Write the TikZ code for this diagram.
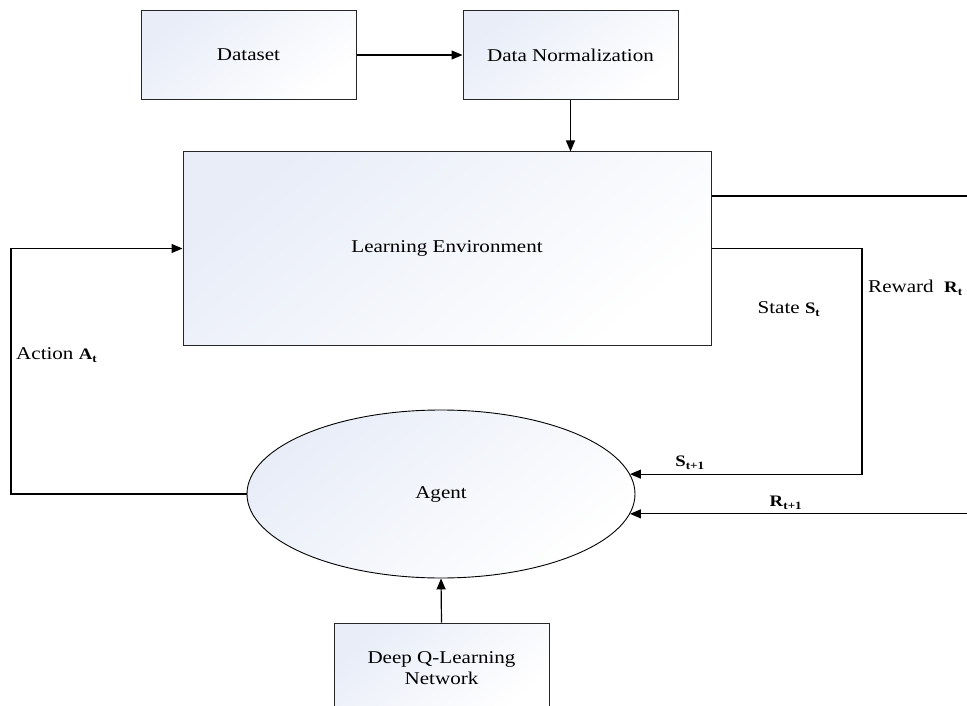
\documentclass[tikz,border=0pt]{standalone}
\usepackage{fontspec}
\setmainfont{Liberation Serif}[FakeStretch=1.17]
\usetikzlibrary{arrows.meta,shapes.geometric,calc}
\definecolor{shadeblue}{HTML}{E8EDF8}
\definecolor{shademid}{HTML}{F7F9FD}
\tikzset{
  box/.style={draw=black!85, line width=1pt, minimum width=215pt, minimum height=89pt,
    shading=axis, top color=shadeblue, middle color=shademid, bottom color=white, shading angle=40,
    align=center, inner sep=2pt},
  agentshape/.style={ellipse, draw=black, line width=0.9pt, minimum width=388pt, minimum height=168pt,
    shading=axis, top color=shadeblue, middle color=shademid, bottom color=white, shading angle=40, inner sep=0pt},
  link/.style={line width=1.2pt, draw=black},
  arr/.style={link, -{Triangle[length=11pt,width=9pt]}},
  lbl/.style={inner sep=0pt, anchor=center},
  txt/.style={font=\fontsize{18}{21}\selectfont}
}
\newcommand{\bsym}[2]{{\fontsize{16}{18}\selectfont\textbf{#1}\textsubscript{\textbf{#2}}}}
\begin{document}
\begin{tikzpicture}[x=1pt,y=-1pt, txt]
\useasboundingbox (0,0) rectangle (967,706);
\node[box] (ds) at (248.5,55) {Dataset};
\node[box] (dn) at (570.5,55) {Data Normalization};
\node[box, minimum width=528pt, minimum height=193pt] (le) at (447,248.5) {Learning Environment};
\node[agentshape] (ag) at (441,494) {Agent};
\node[box, minimum height=90pt] (dqn) at (441.5,668) {Deep Q-Learning\\Network};
\coordinate (rtop) at (967,196);
\coordinate (sx) at (862,0);
\coordinate (rx) at (967,0);
\coordinate (ax) at (11,0);
\draw[arr] (ds.east) -- (dn.west);
\draw[arr] (dn.south) -- (dn.south |- le.north);
\draw[link] (le.east |- rtop) -- (rtop);
\draw[arr] (le.east) -| (sx |- ag.6) -- (ag.6);
\draw[arr] (rx |- ag.-6) -- (ag.-6);
\draw[arr] (ag.west) -| (ax |- le.west) -- (le.west);
\draw[arr] (dqn.north) -- (ag.south);
\node[lbl] (lstate) at (789,309) {State \bsym{S}{t}};
\node[lbl, anchor=west] (lreward) at (868,288) {Reward\ \ \bsym{R}{t}};
\node[lbl, anchor=west] (laction) at (16,355) {Action \bsym{A}{t}};
\node[lbl] (lsnext) at (690,463) {\bsym{S}{t+1}};
\node[lbl] (lrnext) at (786,503) {\bsym{R}{t+1}};
\end{tikzpicture}
\end{document}
